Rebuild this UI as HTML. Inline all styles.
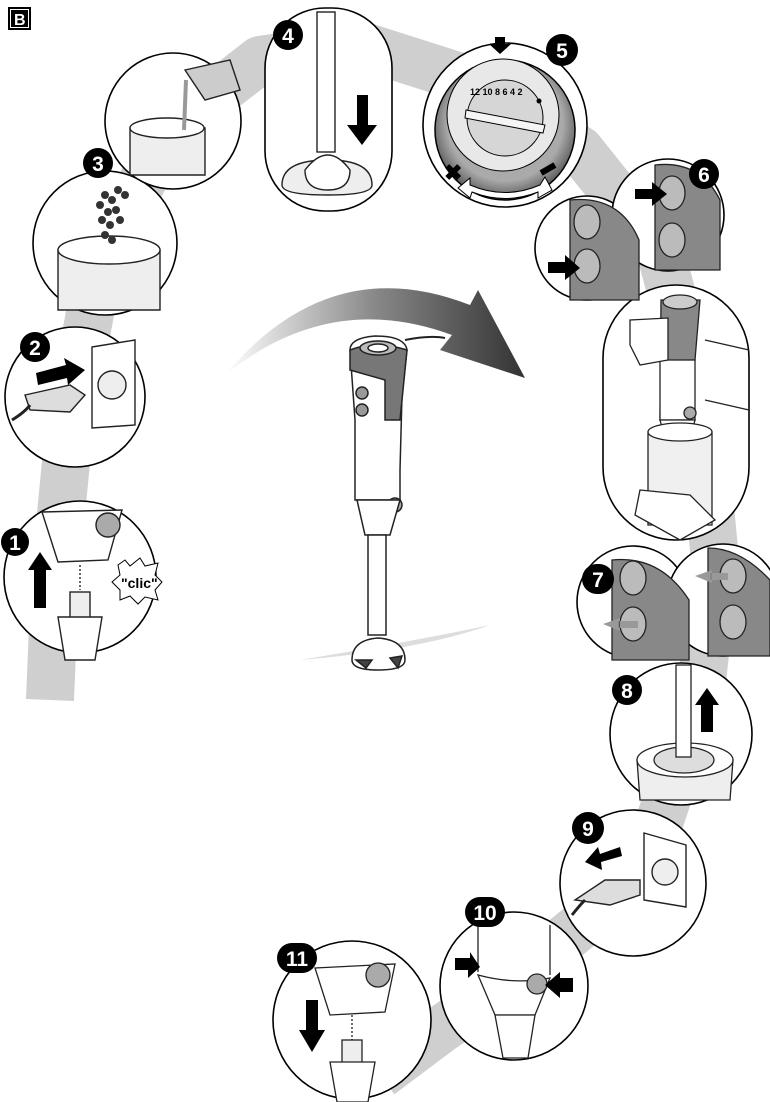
<!DOCTYPE html>
<html><head><meta charset="utf-8"><style>
html,body{margin:0;padding:0;background:#fff;}
svg{display:block}
text{font-family:"Liberation Sans",Arial,sans-serif;font-weight:bold}
</style></head><body>
<svg width="770" height="1102" viewBox="0 0 770 1102" xmlns="http://www.w3.org/2000/svg">
<defs>
<linearGradient id="arc" x1="0" y1="0" x2="1" y2="0">
<stop offset="0" stop-color="#fff"/><stop offset="0.5" stop-color="#888"/><stop offset="1" stop-color="#333"/></linearGradient>
<radialGradient id="dial" cx="0.5" cy="0.45" r="0.55"><stop offset="0.75" stop-color="#aaa"/><stop offset="1" stop-color="#555"/></radialGradient>
</defs>
<!-- gray band -->
<path d="M50 700 L55 577 L70 420 L100 260 L170 130 L260 60 L360 45 L470 80 L580 150 L660 250 L700 400 L715 560 L700 700 L660 820 L600 910 L520 975 L440 1030 L380 1075" fill="none" stroke="#cfcfcf" stroke-width="48" stroke-linejoin="round"/>
<!-- B label -->
<rect x="8" y="7" width="23" height="23" fill="#000"/>
<rect x="10" y="9" width="19" height="19" fill="#fff"/>
<rect x="11" y="10" width="17" height="17" fill="#000"/>
<text x="14" y="25" font-size="16" fill="#fff">B</text>

<!-- central arc arrow -->
<path d="M225 375 Q330 250 470 305 L478 290 L525 378 L440 350 L452 335 Q330 290 225 375 Z" fill="url(#arc)"/>
<path d="M300 660 Q420 650 490 625 Q420 640 300 660Z" fill="#ddd"/>

<!-- central blender -->
<g stroke="#222" stroke-width="1.5">
<path d="M350 350 Q350 338 375 336 Q405 336 407 350 L402 395 L400 470 L400 500 L355 500 L355 420 Z" fill="#fff"/>
<path d="M350 350 Q375 340 407 350 L400 420 L385 420 L385 380 L350 370 Z" fill="#777"/>
<ellipse cx="378" cy="348" rx="18" ry="7" fill="#bbb"/>
<ellipse cx="378" cy="348" rx="10" ry="4" fill="#fff"/>
<circle cx="362" cy="393" r="6" fill="#999"/><circle cx="362" cy="410" r="6" fill="#999"/>
<path d="M405 340 Q430 335 445 338" fill="none" stroke-width="2"/>
<circle cx="395" cy="505" r="7" fill="#aaa"/>
<path d="M357 500 L400 500 L390 535 L365 535 Z" fill="#fff"/>
<rect x="368" y="535" width="18" height="100" fill="#fff"/>
<path d="M352 660 Q352 640 378 638 Q405 640 405 660 Q405 670 378 670 Q352 670 352 660Z" fill="#fff"/>
<path d="M356 660 L372 660 L366 668Z M390 658 L402 656 L398 668Z" fill="#444"/>
</g>

<g stroke="#000" stroke-width="1.6" fill="#fff">
<circle cx="80" cy="577" r="76"/>
<circle cx="75" cy="397" r="70"/>
<circle cx="105" cy="243" r="72"/>
<circle cx="173" cy="121" r="68"/>
<rect x="265" y="8" width="127" height="203" rx="60"/>
<circle cx="505" cy="125" r="82"/>
<circle cx="587" cy="248" r="52"/>
<circle cx="668" cy="215" r="56"/>
<rect x="603" y="285" width="146" height="255" rx="73"/>
<circle cx="633" cy="602" r="56"/>
<circle cx="723" cy="600" r="56"/>
<circle cx="681" cy="734" r="71"/>
<circle cx="633" cy="883" r="73"/>
<circle cx="514" cy="986" r="74"/>
<circle cx="352" cy="1020" r="79"/>
</g>

<!-- step 1 content -->
<g stroke="#222" stroke-width="1.4" fill="#fff">
<path d="M42 512 L122 510 L108 560 L58 562 Z"/>
<circle cx="108" cy="525" r="12" fill="#aaa"/>
<line x1="80" y1="565" x2="80" y2="590" stroke-dasharray="2,2"/>
<rect x="70" y="592" width="20" height="28" fill="#eee"/>
<path d="M58 617 L102 617 L95 660 L65 660Z"/>
</g>
<path d="M34 608 L34 570 L28 570 L40 552 L52 570 L46 570 L46 608Z" fill="#000"/>
<path d="M118 565 L125 560 L130 566 L140 558 L145 566 L158 563 L155 575 L162 582 L155 590 L158 600 L145 597 L138 604 L130 596 L120 600 L120 590 L112 582 L120 575Z" fill="#fff" stroke="#000"/>
<text x="121" y="588" font-size="14">"clic"</text>

<!-- step 2 -->
<g stroke="#222" stroke-width="1.4">
<path d="M92 347 L135 340 L135 425 L92 428Z" fill="#fff"/>
<circle cx="112" cy="385" r="14" fill="#eee"/>
<path d="M25 395 L70 385 L85 395 L70 412 L30 410Z" fill="#ddd"/>
<path d="M12 420 Q25 412 30 405" fill="none" stroke-width="3"/>
</g>
<path d="M36 373 L66 365 L64 358 L85 370 L68 385 L67 378 L38 385Z" fill="#000"/>

<!-- step 3 -->
<g stroke="#222" stroke-width="1.4">
<path d="M58 250 L160 250 L160 310 L58 310Z" fill="#eee"/>
<ellipse cx="109" cy="250" rx="51" ry="14" fill="#fff"/>
</g>
<g fill="#333">
<circle cx="105" cy="195" r="4"/><circle cx="112" cy="200" r="4"/><circle cx="100" cy="205" r="4"/><circle cx="108" cy="212" r="4"/><circle cx="116" cy="210" r="4"/><circle cx="102" cy="220" r="4"/><circle cx="110" cy="225" r="4"/><circle cx="105" cy="235" r="4"/><circle cx="112" cy="240" r="4"/><circle cx="118" cy="190" r="4"/><circle cx="125" cy="195" r="4"/><circle cx="120" cy="220" r="4"/>
</g>
<!-- pour -->
<g stroke="#222" stroke-width="1.4">
<path d="M130 128 L205 128 L205 175 L130 175Z" fill="#eee"/>
<ellipse cx="167" cy="128" rx="37" ry="10" fill="#fff"/>
<path d="M185 70 L230 60 L240 90 L205 100 Z" fill="#ccc"/>
<path d="M186 80 L184 130" stroke="#999" stroke-width="4"/>
</g>

<!-- step 4 -->
<g stroke="#222" stroke-width="1.4" fill="#fff">
<rect x="317" y="12" width="18" height="140"/>
<path d="M282 185 Q282 160 328 160 Q372 160 372 185 Q372 195 328 195 Q282 195 282 185Z" fill="#eee"/>
<path d="M305 170 Q328 140 350 170 Q350 190 328 190 Q305 190 305 170Z"/>
</g>
<path d="M357 95 L368 95 L368 125 L377 125 L362 145 L347 125 L357 125Z" fill="#000"/>

<!-- dial 5 -->
<circle cx="505" cy="130" r="70" fill="url(#dial)" stroke="#000" stroke-width="1.5"/>
<circle cx="503" cy="115" r="56" fill="#e8e8e8" stroke="#000"/>
<circle cx="505" cy="118" r="38" fill="#d6d6d6" stroke="#000"/>
<path d="M466 110 L545 125 L543 133 L465 118Z" fill="#f4f4f4" stroke="#000"/>
<text x="470" y="95" font-size="9" fill="#000">12 10 8 6 4 2</text>
<circle cx="539" cy="101" r="2.5" fill="#000"/>
<path d="M495 37 L505 37 L505 44 L511 44 L500 54 L489 44 L495 44Z" fill="#000"/>
<path d="M470 185 Q505 200 540 185 L545 177 L552 190 L538 198 L538 192 Q505 205 472 192 L470 198 L458 188 L470 178Z" fill="#fff" stroke="#000"/>
<text x="444" y="180" font-size="22" fill="#000">✖</text>
<rect x="540" y="166" width="16" height="6" fill="#000" transform="rotate(-30 548 169)"/>

<!-- step 6 -->
<g stroke="#222" stroke-width="1.3">
<path d="M570 200 Q620 195 639 240 L639 300 L570 300 Z" fill="#888"/>
<ellipse cx="587" cy="222" rx="13" ry="17" fill="#bbb"/>
<ellipse cx="587" cy="266" rx="13" ry="17" fill="#bbb"/>
<path d="M655 165 Q700 160 720 200 L720 270 L655 270Z" fill="#888"/>
<ellipse cx="672" cy="193" rx="13" ry="17" fill="#bbb"/>
<ellipse cx="672" cy="240" rx="13" ry="17" fill="#bbb"/>
</g>
<path d="M548 262 L565 262 L565 255 L580 268 L565 280 L565 273 L548 273Z" fill="#000"/>
<path d="M635 189 L652 189 L652 182 L667 194 L652 206 L652 199 L635 199Z" fill="#000"/>

<!-- tall pill content -->
<g stroke="#222" stroke-width="1.3">
<path d="M661 300 L700 300 L695 360 L690 420 L660 420 Z" fill="#888"/>
<ellipse cx="680" cy="302" rx="17" ry="7" fill="#ccc"/>
<rect x="660" y="360" width="35" height="60" fill="#fff"/>
<path d="M660 420 L695 420 L685 455 L670 455Z" fill="#fff"/>
<circle cx="690" cy="413" r="6" fill="#aaa"/>
<path d="M648 432 L712 432 L712 525 L648 525Z" fill="#f0f0f0"/>
<ellipse cx="680" cy="432" rx="32" ry="9" fill="#fff"/>
<path d="M630 320 L668 318 L668 360 L640 365 L630 345Z" fill="#fff"/>
<path d="M640 490 L690 495 L715 520 L680 540 L635 515Z" fill="#fff"/>
<path d="M705 340 L749 350 M705 400 L749 410" fill="none"/>
</g>

<!-- step 7 -->
<g stroke="#222" stroke-width="1.3">
<path d="M612 560 Q660 555 689 600 L689 660 L612 660Z" fill="#888"/>
<ellipse cx="633" cy="578" rx="13" ry="17" fill="#bbb"/>
<ellipse cx="633" cy="624" rx="13" ry="17" fill="#bbb"/>
<path d="M708 548 Q740 548 770 580 L770 656 L708 656Z" fill="#888"/>
<ellipse cx="733" cy="576" rx="13" ry="17" fill="#bbb"/>
<ellipse cx="733" cy="622" rx="13" ry="17" fill="#bbb"/>
</g>
<path d="M620 618 L603 624 L620 631Z M618 621 L638 621 L638 628 L618 628Z" fill="#999"/>
<path d="M712 570 L695 576 L712 583Z M710 573 L728 573 L728 580 L710 580Z" fill="#999"/>

<!-- step 8 -->
<g stroke="#222" stroke-width="1.3">
<path d="M637 760 L733 760 L730 800 L640 800Z" fill="#eee"/>
<ellipse cx="685" cy="760" rx="48" ry="17" fill="#fff"/>
<ellipse cx="684" cy="760" rx="30" ry="13" fill="#ddd"/>
<rect x="676" y="665" width="15" height="92" fill="#fff"/>
</g>
<path d="M701 732 L701 705 L695 705 L707 688 L719 705 L713 705 L713 732Z" fill="#000"/>

<!-- step 9 -->
<g stroke="#222" stroke-width="1.4">
<path d="M644 833 L686 845 L686 907 L644 900Z" fill="#fff"/>
<circle cx="665" cy="872" r="13" fill="#eee"/>
<path d="M575 900 L605 880 L640 880 L640 895 L610 905Z" fill="#ddd"/>
<path d="M572 915 Q580 905 585 900" fill="none" stroke-width="3"/>
</g>
<path d="M620 847 L600 854 L598 847 L585 862 L602 870 L601 862 L622 856Z" fill="#000"/>

<!-- step 10 -->
<g stroke="#222" stroke-width="1.3" fill="#fff">
<line x1="478" y1="925" x2="478" y2="972"/>
<line x1="550" y1="925" x2="550" y2="975"/>
<path d="M478 975 Q515 985 550 978 L535 1015 L495 1015 Z"/>
<path d="M495 1015 L535 1015 L528 1058 L503 1058Z"/>
<circle cx="537" cy="984" r="10" fill="#aaa"/>
</g>
<path d="M455 958 L470 958 L470 952 L480 967 L468 978 L468 970 L455 970Z" fill="#000"/>
<path d="M573 978 L560 978 L560 972 L545 985 L560 998 L560 992 L573 992Z" fill="#000"/>

<!-- step 11 -->
<g stroke="#222" stroke-width="1.3" fill="#fff">
<path d="M315 968 L395 964 L385 1012 L330 1015Z"/>
<circle cx="378" cy="975" r="12" fill="#aaa"/>
<line x1="352" y1="1015" x2="352" y2="1040" stroke-dasharray="2,2"/>
<rect x="342" y="1040" width="20" height="25" fill="#eee"/>
<path d="M330 1062 L375 1062 L368 1102 L337 1102Z"/>
</g>
<path d="M306 1000 L318 1000 L318 1030 L325 1030 L312 1052 L299 1030 L306 1030Z" fill="#000"/>

<!-- number badges -->
<g fill="#000">
<circle cx="15" cy="542" r="14"/>
<circle cx="35" cy="347" r="15"/>
<circle cx="98" cy="163" r="15"/>
<circle cx="288" cy="35" r="15"/>
<circle cx="562" cy="50" r="16"/>
<circle cx="704" cy="174" r="15"/>
<rect x="582" y="564" width="32" height="30" rx="15"/>
<circle cx="627" cy="690" r="15"/>
<circle cx="588" cy="828" r="16"/>
<rect x="465" y="897" width="40" height="30" rx="15"/>
<rect x="277" y="943" width="40" height="30" rx="15"/>
</g>
<g fill="#fff" font-size="21" text-anchor="middle">
<text x="15" y="550">1</text>
<text x="35" y="355">2</text>
<text x="98" y="171">3</text>
<text x="288" y="43">4</text>
<text x="562" y="58">5</text>
<text x="704" y="182">6</text>
<text x="598" y="587">7</text>
<text x="627" y="698">8</text>
<text x="588" y="836">9</text>
<text x="485" y="920">10</text>
<text x="297" y="966">11</text>
</g>
</svg>
</body></html>
